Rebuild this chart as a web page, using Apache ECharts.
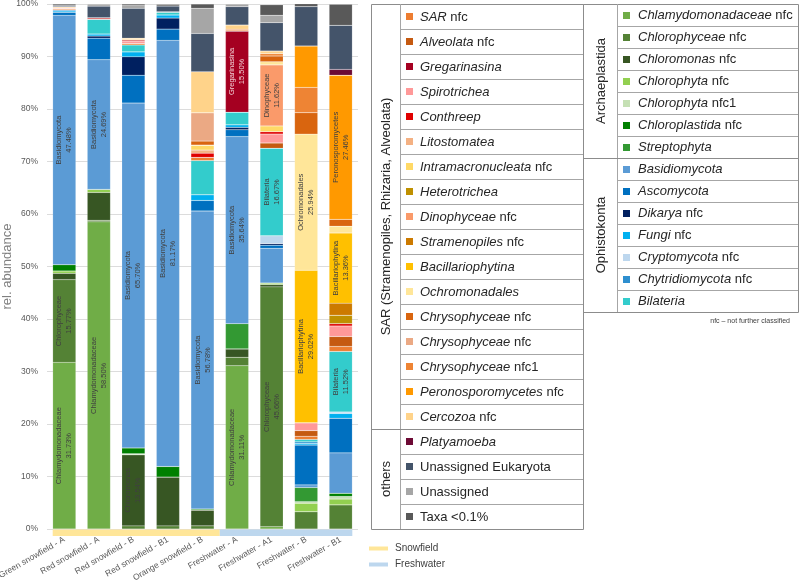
<!DOCTYPE html>
<html><head><meta charset="utf-8">
<script src="https://cdn.jsdelivr.net/npm/echarts@6/dist/echarts.min.js"></script>
<style>html,body{margin:0;padding:0;background:#fff}#c{width:799px;height:583px}</style>
</head><body><div id="c"></div>
<script>
const categories = ['Green snowfield - A','Red snowfield - A','Red snowfield - B','Red snowfield - B1','Orange snowfield - B','Freshwater - A','Freshwater - A1','Freshwater - B','Freshwater - B1'];
const regions = ['Snowfield','Snowfield','Snowfield','Snowfield','Snowfield','Freshwater','Freshwater','Freshwater','Freshwater'];
const yTicks = [0,10,20,30,40,50,60,70,80,90,100];

// Archaeplastida
const chlamydomonadaceae = [31.73, 58.50, 0, 0, 0, 31.11, 0.45, 0, 0];
const chlorophyceae      = [15.77, 0.3, 0.6, 0.6, 0.6, 1.6, 45.66, 3.3, 4.6];
const chloromonas        = [1.2, 5.3, 13.54, 9.3, 3.0, 1.6, 0.45, 0, 0];
const chlorophyta        = [0.45, 0.6, 0, 0, 0, 0, 0.3, 1.6, 1.1];
const chlorophyta1       = [0, 0, 0.2, 0, 0, 0, 0, 0.3, 0.5];
const chloroplastida     = [1.2, 0, 1.1, 2.0, 0.2, 0, 0, 0, 0.6];
const streptophyta       = [0, 0, 0, 0, 0, 4.8, 0, 2.7, 0];
// Ophistokonta
const basidiomycota      = [47.48, 24.69, 65.70, 81.17, 56.78, 35.64, 6.6, 0.5, 7.7];
const ascomycota         = [0.6, 4.1, 5.3, 2.15, 2.0, 1.3, 0.6, 7.6, 6.6];
const dikarya            = [0, 0.4, 3.5, 2.1, 0, 0.45, 0.3, 0, 0];
const fungi              = [0.25, 0.4, 0.95, 0.6, 1.1, 0.5, 0, 0.3, 0.9];
const cryptomycota       = [0, 0, 0, 0, 0, 0, 1.5, 0, 0.3];
const chytridiomycota    = [0.2, 0, 0, 0, 0, 0, 0, 0.3, 0];
const bilateria          = [0, 2.8, 1.3, 0.6, 6.5, 2.4, 16.67, 0.45, 11.52];
// SAR
const sar                = [0.2, 0, 0.3, 0, 0.6, 0, 0, 0.6, 0.95];
const alveolata          = [0, 0, 0, 0, 0, 0, 1.0, 1.1, 1.9];
const gregarinasina      = [0, 0, 0, 0, 0, 15.50, 0, 0, 0];
const spirotrichea       = [0.2, 0, 0.4, 0, 0, 0, 1.7, 1.5, 2.0];
const conthreep          = [0, 0.3, 0.3, 0, 0.8, 0, 0.45, 0, 0.45];
const litostomatea       = [0, 0, 0, 0, 0.6, 0, 0, 0, 0];
const intramacronucleata = [0, 0, 0, 0, 0.95, 0, 1.1, 0, 0];
const heterotrichea      = [0, 0, 0, 0, 0, 0, 0, 0, 1.6];
const dinophyceae        = [0, 0, 0, 0, 0, 0, 11.62, 0, 0];
const stramenopiles      = [0, 0, 0, 0, 0, 0, 0, 0, 2.3];
const bacillariophytina  = [0, 0, 0, 0, 0, 0, 0, 29.02, 13.36];
const ochromonadales     = [0, 0, 0, 0, 0, 0, 0.6, 25.94, 1.3];
const chrysophyceaeA     = [0, 0, 0, 0, 0.76, 0, 1.1, 4.1, 1.3];
const chrysophyceaeB     = [0, 0, 0, 0, 5.4, 0, 0, 0, 0];
const chrysophyceae1     = [0, 0, 0, 0, 0, 0.3, 0.45, 4.8, 0];
const peronosporomycetes = [0, 0, 0, 0, 0, 0, 0, 7.9, 27.46];
const cercozoa           = [0.2, 0, 0.3, 0, 7.8, 0.8, 0.5, 0, 0];
// others
const platyamoeba        = [0, 0, 0, 0, 0, 0, 0, 0, 1.1];
const unassignedEuk      = [0.2, 2.2, 5.7, 1.1, 7.3, 3.5, 5.4, 7.5, 8.4];
const unassigned         = [0, 0.4, 0.5, 0, 4.8, 0.5, 1.4, 0, 0];
const taxaSmall          = [0.3, 0, 0.3, 0.3, 0.8, 0, 2.0, 0.6, 4.0];

// stack order, bottom to top: [name, values, group]
const taxa = [
  ['Chlamydomonadaceae nfc', chlamydomonadaceae, 'Archaeplastida'],
  ['Chlorophyceae nfc', chlorophyceae, 'Archaeplastida'],
  ['Chloromonas nfc', chloromonas, 'Archaeplastida'],
  ['Chlorophyta nfc', chlorophyta, 'Archaeplastida'],
  ['Chlorophyta nfc1', chlorophyta1, 'Archaeplastida'],
  ['Chloroplastida nfc', chloroplastida, 'Archaeplastida'],
  ['Streptophyta', streptophyta, 'Archaeplastida'],
  ['Basidiomycota', basidiomycota, 'Ophistokonta'],
  ['Ascomycota', ascomycota, 'Ophistokonta'],
  ['Dikarya nfc', dikarya, 'Ophistokonta'],
  ['Fungi nfc', fungi, 'Ophistokonta'],
  ['Cryptomycota nfc', cryptomycota, 'Ophistokonta'],
  ['Chytridiomycota nfc', chytridiomycota, 'Ophistokonta'],
  ['Bilateria', bilateria, 'Ophistokonta'],
  ['SAR nfc', sar, 'SAR (Stramenopiles, Rhizaria, Alveolata)'],
  ['Alveolata nfc', alveolata, 'SAR (Stramenopiles, Rhizaria, Alveolata)'],
  ['Gregarinasina', gregarinasina, 'SAR (Stramenopiles, Rhizaria, Alveolata)'],
  ['Spirotrichea', spirotrichea, 'SAR (Stramenopiles, Rhizaria, Alveolata)'],
  ['Conthreep', conthreep, 'SAR (Stramenopiles, Rhizaria, Alveolata)'],
  ['Litostomatea', litostomatea, 'SAR (Stramenopiles, Rhizaria, Alveolata)'],
  ['Intramacronucleata nfc', intramacronucleata, 'SAR (Stramenopiles, Rhizaria, Alveolata)'],
  ['Heterotrichea', heterotrichea, 'SAR (Stramenopiles, Rhizaria, Alveolata)'],
  ['Dinophyceae nfc', dinophyceae, 'SAR (Stramenopiles, Rhizaria, Alveolata)'],
  ['Stramenopiles nfc', stramenopiles, 'SAR (Stramenopiles, Rhizaria, Alveolata)'],
  ['Bacillariophytina', bacillariophytina, 'SAR (Stramenopiles, Rhizaria, Alveolata)'],
  ['Ochromonadales', ochromonadales, 'SAR (Stramenopiles, Rhizaria, Alveolata)'],
  ['Chrysophyceae nfc', chrysophyceaeA, 'SAR (Stramenopiles, Rhizaria, Alveolata)'],
  ['Chrysophyceae nfc', chrysophyceaeB, 'SAR (Stramenopiles, Rhizaria, Alveolata)'],
  ['Chrysophyceae nfc1', chrysophyceae1, 'SAR (Stramenopiles, Rhizaria, Alveolata)'],
  ['Peronosporomycetes nfc', peronosporomycetes, 'SAR (Stramenopiles, Rhizaria, Alveolata)'],
  ['Cercozoa nfc', cercozoa, 'SAR (Stramenopiles, Rhizaria, Alveolata)'],
  ['Platyamoeba', platyamoeba, 'others'],
  ['Unassigned Eukaryota', unassignedEuk, 'others'],
  ['Unassigned', unassigned, 'others'],
  ['Taxa <0.1%', taxaSmall, 'others']
];
const palette = [
  '#70ad47','#548235','#375623','#92d050','#c5e0b4','#008000','#339933',
  '#5b9bd5','#0070c0','#002060','#00b0f0','#bdd7ee','#2e8fcf','#33cccc',
  '#ed7d31','#c55a11','#a50021','#ff9999','#e00000','#f4b183','#ffd966','#bf9000','#fa9a6a','#cc7a00','#ffc000','#ffe699','#d9650f','#eba984','#ee8434','#ff9900','#ffd38a',
  '#6d0a35','#44546a','#a6a6a6','#595959'
];
const plainNames = ['Unassigned Eukaryota','Unassigned','Taxa <0.1%'];
const regionColors = {Snowfield:'#ffe699', Freshwater:'#bdd7ee'};
const FONT = '"Liberation Sans", Arial, sans-serif';

const chart = echarts.init(document.getElementById('c'), null, {renderer:'canvas'});

const series = taxa.map((t, i) => {
  const short = t[0].replace(/ nfc1?$/, '');
  return {
    name: t[0], id: 's' + i, type: 'bar', stack: 'total', data: t[1], barWidth: '67%',
    itemStyle: {color: palette[i], borderColor: 'rgba(255,255,255,0.35)', borderWidth: 0.4},
    label: {
      show: true, position: 'inside', rotate: 90, fontSize: 7.5, lineHeight: 10,
      fontFamily: FONT, color: t[0] === 'Gregarinasina' ? '#f2d0d6' : '#404040',
      formatter: p => p.value >= 10 ? short + '\n' + p.value.toFixed(2) + '%' : ''
    },
    emphasis: {disabled: true},
    silent: true
  };
});

chart.setOption({
  animation: false,
  grid: {left: 47, right: 441, top: 4, bottom: 54, containLabel: false, outerBoundsMode: 'none'},
  xAxis: {
    type: 'category', data: categories,
    axisLine: {show: false}, axisTick: {show: false},
    axisLabel: {rotate: 30, margin: 10, fontSize: 8.5, color: '#595959', fontFamily: FONT, interval: 0}
  },
  yAxis: {
    type: 'value', min: yTicks[0], max: yTicks[yTicks.length - 1], interval: 10,
    name: 'rel. abundance', nameLocation: 'middle', nameGap: 33, nameMoveOverlap: false,
    nameTextStyle: {fontSize: 13, color: '#808080', fontFamily: FONT},
    axisLabel: {formatter: '{value}%', fontSize: 8.5, color: '#595959', fontFamily: FONT, margin: 9},
    axisLine: {show: false}, axisTick: {show: false},
    splitLine: {lineStyle: {color: '#dcdcdc', width: 1}}
  },
  series: series
});

// ---- extra graphics: region strip, region legend, taxon tables ----
const g = [];
const px = i => chart.convertToPixel({xAxisIndex: 0}, i);
const zeroY = chart.convertToPixel({yAxisIndex: 0}, 0);
const band = px(1) - px(0);
const bw = band * 0.67;
let start = 0;
for (let i = 1; i <= categories.length; i++) {
  if (i === categories.length || regions[i] !== regions[start]) {
    const x0 = start === 0 ? px(0) - bw / 2 : (px(start - 1) + px(start)) / 2;
    const x1 = i === categories.length ? px(i - 1) + bw / 2 : (px(i - 1) + px(i)) / 2;
    g.push({type: 'rect', shape: {x: x0, y: zeroY + 0.5, width: x1 - x0, height: 6.5}, style: {fill: regionColors[regions[start]]}, silent: true});
    start = i;
  }
}
const regionNames = [...new Set(regions)];
regionNames.forEach((r, k) => {
  const y = 548.5 + k * 16;
  g.push({type: 'line', shape: {x1: 369, y1: y, x2: 388, y2: y}, style: {stroke: regionColors[r], lineWidth: 4}});
  g.push({type: 'text', x: 395, y: y, style: {text: r, fontSize: 10, fontFamily: FONT, fill: '#404040', align: 'left', verticalAlign: 'middle', textAlign: 'left', textVerticalAlign: 'middle'}});
});

function richName(name) {
  if (plainNames.includes(name)) return {text: name, rich: {}};
  const m = name.match(/^(.*?)( nfc1?)?$/);
  return {text: '{i|' + m[1] + '}' + (m[2] || ''), rich: {i: {fontStyle: 'italic', fontSize: 13, fontFamily: FONT, fill: '#262626'}}};
}

function drawTable(groupNames, T) {
  const items = [];
  taxa.forEach((t, i) => { if (groupNames.includes(t[2])) items.push(i); });
  const n = items.length;
  const bottom = T.top + n * T.rowH;
  const lc = '#a6a6a6';
  g.push({type: 'rect', shape: {x: T.x0 + 0.5, y: T.top + 0.5, width: T.x1 - T.x0, height: bottom - T.top}, style: {fill: 'none', stroke: '#8c8c8c', lineWidth: 1}});
  g.push({type: 'line', shape: {x1: T.gx + 0.5, y1: T.top, x2: T.gx + 0.5, y2: bottom}, style: {stroke: lc, lineWidth: 1}});
  let gs = 0;
  items.forEach((idx, r) => {
    const cy = T.top + r * T.rowH + T.rowH / 2;
    if (r > 0) {
      const newGroup = taxa[idx][2] !== taxa[items[r - 1]][2];
      const y = T.top + r * T.rowH + 0.5;
      g.push({type: 'line', shape: {x1: newGroup ? T.x0 : T.gx, y1: y, x2: T.x1, y2: y}, style: {stroke: newGroup ? '#8c8c8c' : lc, lineWidth: 1}});
    }
    g.push({type: 'rect', shape: {x: T.sq, y: Math.round(cy - 3.5), width: 7, height: 7}, style: {fill: palette[idx]}});
    const rn = richName(taxa[idx][0]);
    g.push({type: 'text', x: T.tx, y: cy + 0.5, style: {text: rn.text, rich: rn.rich, fontSize: 13, fontFamily: FONT, fill: '#262626', align: 'left', verticalAlign: 'middle', textAlign: 'left', textVerticalAlign: 'middle'}});
    const last = r === n - 1 || taxa[items[r + 1]][2] !== taxa[idx][2];
    if (last) {
      const y0 = T.top + gs * T.rowH, y1 = T.top + (r + 1) * T.rowH;
      g.push({type: 'text', x: (T.x0 + T.gx) / 2 + 1, y: (y0 + y1) / 2, rotation: Math.PI / 2,
        style: {text: taxa[idx][2], fontSize: 13, fontFamily: FONT, fill: '#262626', align: 'center', verticalAlign: 'middle', textAlign: 'center', textVerticalAlign: 'middle'}});
      gs = r + 1;
    }
  });
  return bottom;
}
drawTable(['SAR (Stramenopiles, Rhizaria, Alveolata)', 'others'], {x0: 371, gx: 400, x1: 583, top: 4, rowH: 25, sq: 406, tx: 420});
const rb = drawTable(['Archaeplastida', 'Ophistokonta'], {x0: 583, gx: 617, x1: 798, top: 4, rowH: 22, sq: 623, tx: 638});
g.push({type: 'text', x: 790, y: rb + 9, style: {text: 'nfc – not further classified', fontSize: 7, fontFamily: FONT, fill: '#404040', align: 'right', verticalAlign: 'middle', textAlign: 'right', textVerticalAlign: 'middle'}});

chart.setOption({graphic: {elements: g.map(e => Object.assign({silent: true}, e))}});
</script>
</body></html>
